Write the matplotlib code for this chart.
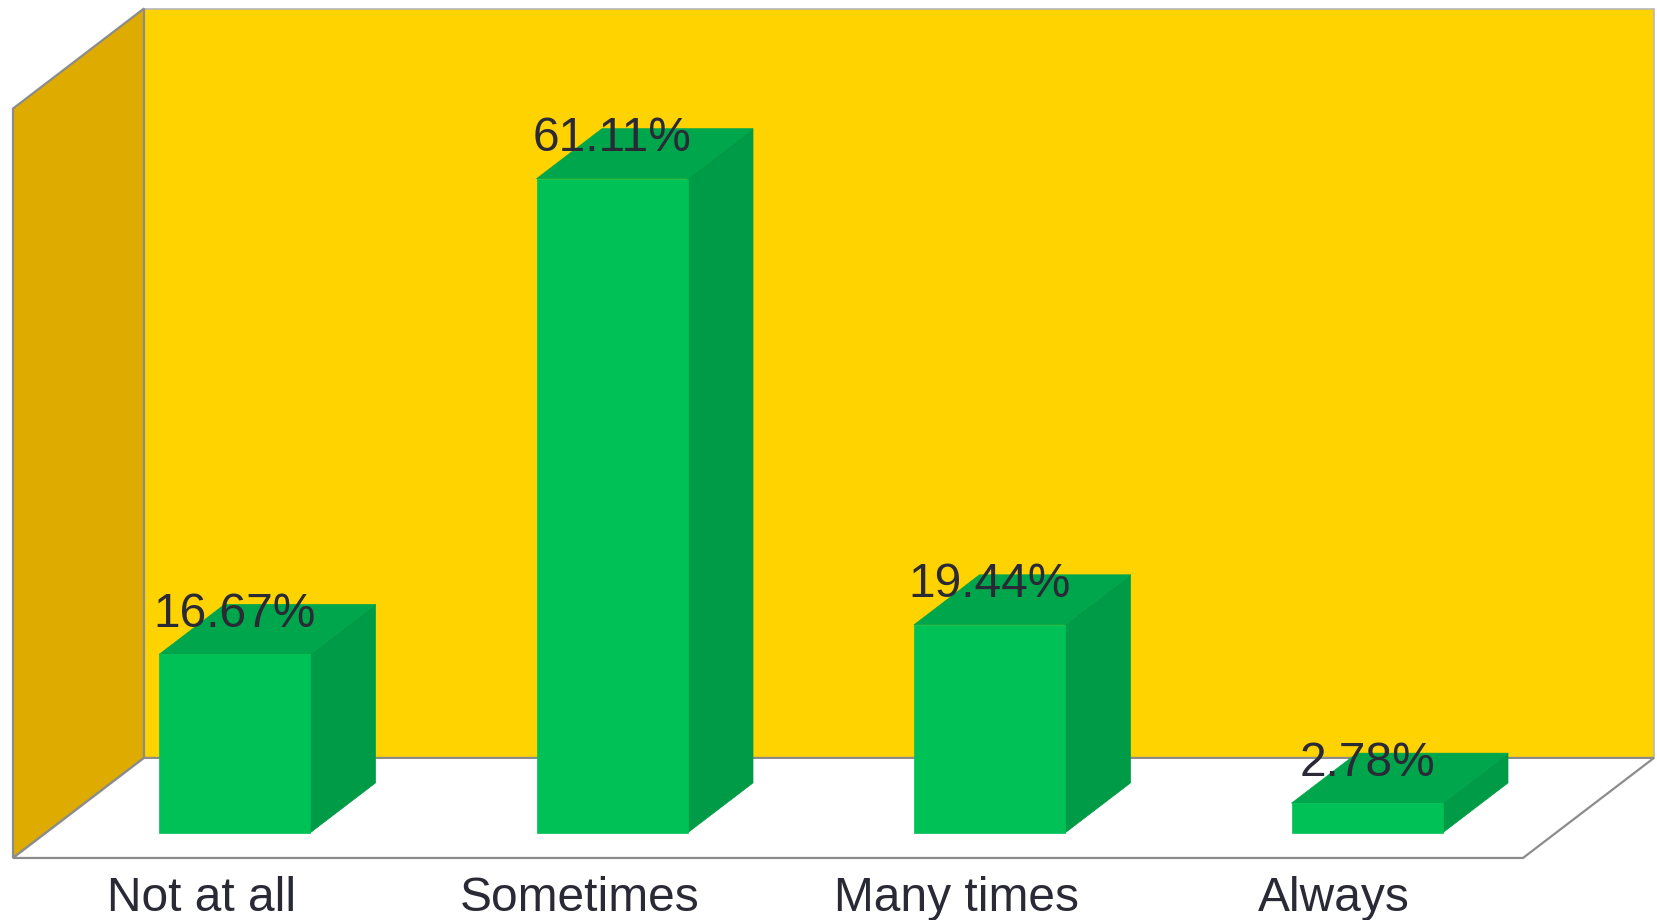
import matplotlib.pyplot as plt
from matplotlib.patches import Polygon

categories = ['Not at all', 'Sometimes', 'Many times', 'Always']
values = [16.67, 61.11, 19.44, 2.78]
zmax = 70

# oblique projection: depth 0..1 shifts right by DX categories and up by DZ percent
DX = 131 / 377.5
DZ = 100 / 10.7


def proj(pts):
    return [(u + d * DX, z + d * DZ) for u, d, z in pts]


def face(ax, pts, fc, ec='none', lw=0):
    ax.add_patch(Polygon(proj(pts), closed=True, facecolor=fc, edgecolor=ec,
                         linewidth=lw, joinstyle='miter'))


fig = plt.figure(figsize=(16.57, 9.205), dpi=100)
ax = fig.add_axes([0, 0, 1, 1])
ax.set_xlim(-13 / 377.5, (1657 - 13) / 377.5)
ax.set_ylim(-(920 - 858) / 10.7, 858 / 10.7)
ax.axis('off')

n = len(categories)
edge = '#8c8c8c'
txt = dict(ha='center', va='center', fontsize=34.5, color='#2a2a36',
           family='Liberation Sans')

# walls and floor
face(ax, [(0, 1, 0), (n, 1, 0), (n, 1, zmax), (0, 1, zmax)], '#ffd300', '#b8b8b8', 1.2)
face(ax, [(0, 0, 0), (0, 1, 0), (0, 1, zmax), (0, 0, zmax)], '#deab00', edge, 1.6)
face(ax, [(0, 0, 0), (n, 0, 0), (n, 1, 0), (0, 1, 0)], 'white', edge, 1.6)

# bars
d0, d1 = 0.25, 0.75
for i, v in enumerate(values):
    u0, u1 = i + 0.3, i + 0.7
    face(ax, [(u1, d0, 0), (u1, d1, 0), (u1, d1, v), (u1, d0, v)], '#009b46', '#009b46', 0.5)
    face(ax, [(u0, d0, v), (u1, d0, v), (u1, d1, v), (u0, d1, v)], '#00a64c', '#00a64c', 0.5)
    face(ax, [(u0, d0, 0), (u1, d0, 0), (u1, d0, v), (u0, d0, v)], '#00c155', '#00c155', 0.5)
    x, y = proj([(i + 0.5, d0, v)])[0]
    ax.text(x, v + d1 * DZ - 0.9, f'{v:.2f}%', **txt)

for i, c in enumerate(categories):
    ax.text(i + 0.5, -3.75, c, **txt)

fig.savefig('out.png', dpi=100)
